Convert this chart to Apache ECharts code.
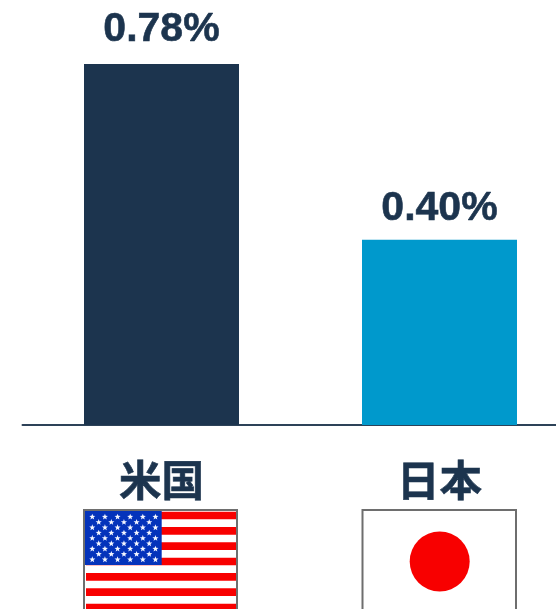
<!DOCTYPE html>
<html><head><meta charset="utf-8">
<style>html,body{margin:0;padding:0;background:#fff;overflow:hidden}#c{width:556px;height:609px}</style>
<script src="https://cdn.jsdelivr.net/npm/echarts@6/dist/echarts.min.js"></script>
</head><body><div id="c"></div>
<script>
const categories = ['米国', '日本'];
const values = [0.78, 0.40];
const barColors = ['#1c344e', '#0099cc'];
const labelGaps = [14, 11];
const navy = '#1c344e';

function starPoints(cx, cy, r) {
  const pts = [];
  for (let i = 0; i < 10; i++) {
    const a = -Math.PI / 2 + i * Math.PI / 5, q = i % 2 ? r * 0.42 : r;
    pts.push([cx + q * Math.cos(a), cy + q * Math.sin(a)]);
  }
  return pts;
}
function usFlag() {
  const out = [];
  out.push({type: 'rect', shape: {x: 84, y: 510, width: 153, height: 110}, style: {fill: '#fff', stroke: '#6e6e6e', lineWidth: 2}, z: 10});
  for (let i = 0; i < 7; i++) {
    out.push({type: 'rect', shape: {x: 86, y: 511.7 + i * 15.33, width: 150, height: 7.67}, style: {fill: '#f80000'}, z: 11});
  }
  out.push({type: 'rect', shape: {x: 85, y: 511, width: 76.7, height: 54}, style: {fill: '#0433bb'}, z: 12});
  for (let row = 0; row < 9; row++) {
    const odd = row % 2 === 1, n = odd ? 5 : 6, x0 = odd ? 98.7 : 92.3;
    for (let k = 0; k < n; k++) {
      out.push({type: 'polygon', shape: {points: starPoints(x0 + k * 12.63, 516.9 + row * 5.33, 3.2)}, style: {fill: '#f4f6ff'}, z: 13});
    }
  }
  return out;
}
function jpFlag() {
  return [
    {type: 'rect', shape: {x: 362.5, y: 510, width: 153.5, height: 110}, style: {fill: '#fff', stroke: '#6e6e6e', lineWidth: 2}, z: 10},
    {type: 'circle', shape: {cx: 439.7, cy: 561.5, r: 30}, style: {fill: '#f80000'}, z: 11}
  ];
}
const labelStyle = {color: navy, fontFamily: '"Liberation Sans"', fontWeight: 'bold', fontSize: 41, textBorderColor: navy, textBorderWidth: 0.6};
const chart = echarts.init(document.getElementById('c'), null, {renderer: 'canvas'});
chart.setOption({
  animation: false,
  backgroundColor: '#fff',
  grid: {left: 22.5, top: 64, width: 556, height: 361, containLabel: false, outerBoundsMode: 'none'},
  xAxis: {
    type: 'category', data: categories,
    axisTick: {show: false},
    axisLine: {lineStyle: {color: '#2d4258', width: 2}},
    axisLabel: {color: navy, fontFamily: '"Noto Sans CJK JP"', fontWeight: 'bold', fontSize: 42.5, margin: 30, lineHeight: 50, interval: 0, textBorderColor: navy, textBorderWidth: 0.6}
  },
  yAxis: {type: 'value', min: 0, max: 0.78, show: false, splitLine: {show: false}},
  series: [{
    type: 'bar', barWidth: 155,
    data: values.map((v, i) => ({
      value: v,
      itemStyle: {color: barColors[i]},
      label: {show: true, position: 'top', distance: labelGaps[i], formatter: p => p.value.toFixed(2) + '%', ...labelStyle}
    }))
  }],
  graphic: [...usFlag(), ...jpFlag()]
});
</script></body></html>
